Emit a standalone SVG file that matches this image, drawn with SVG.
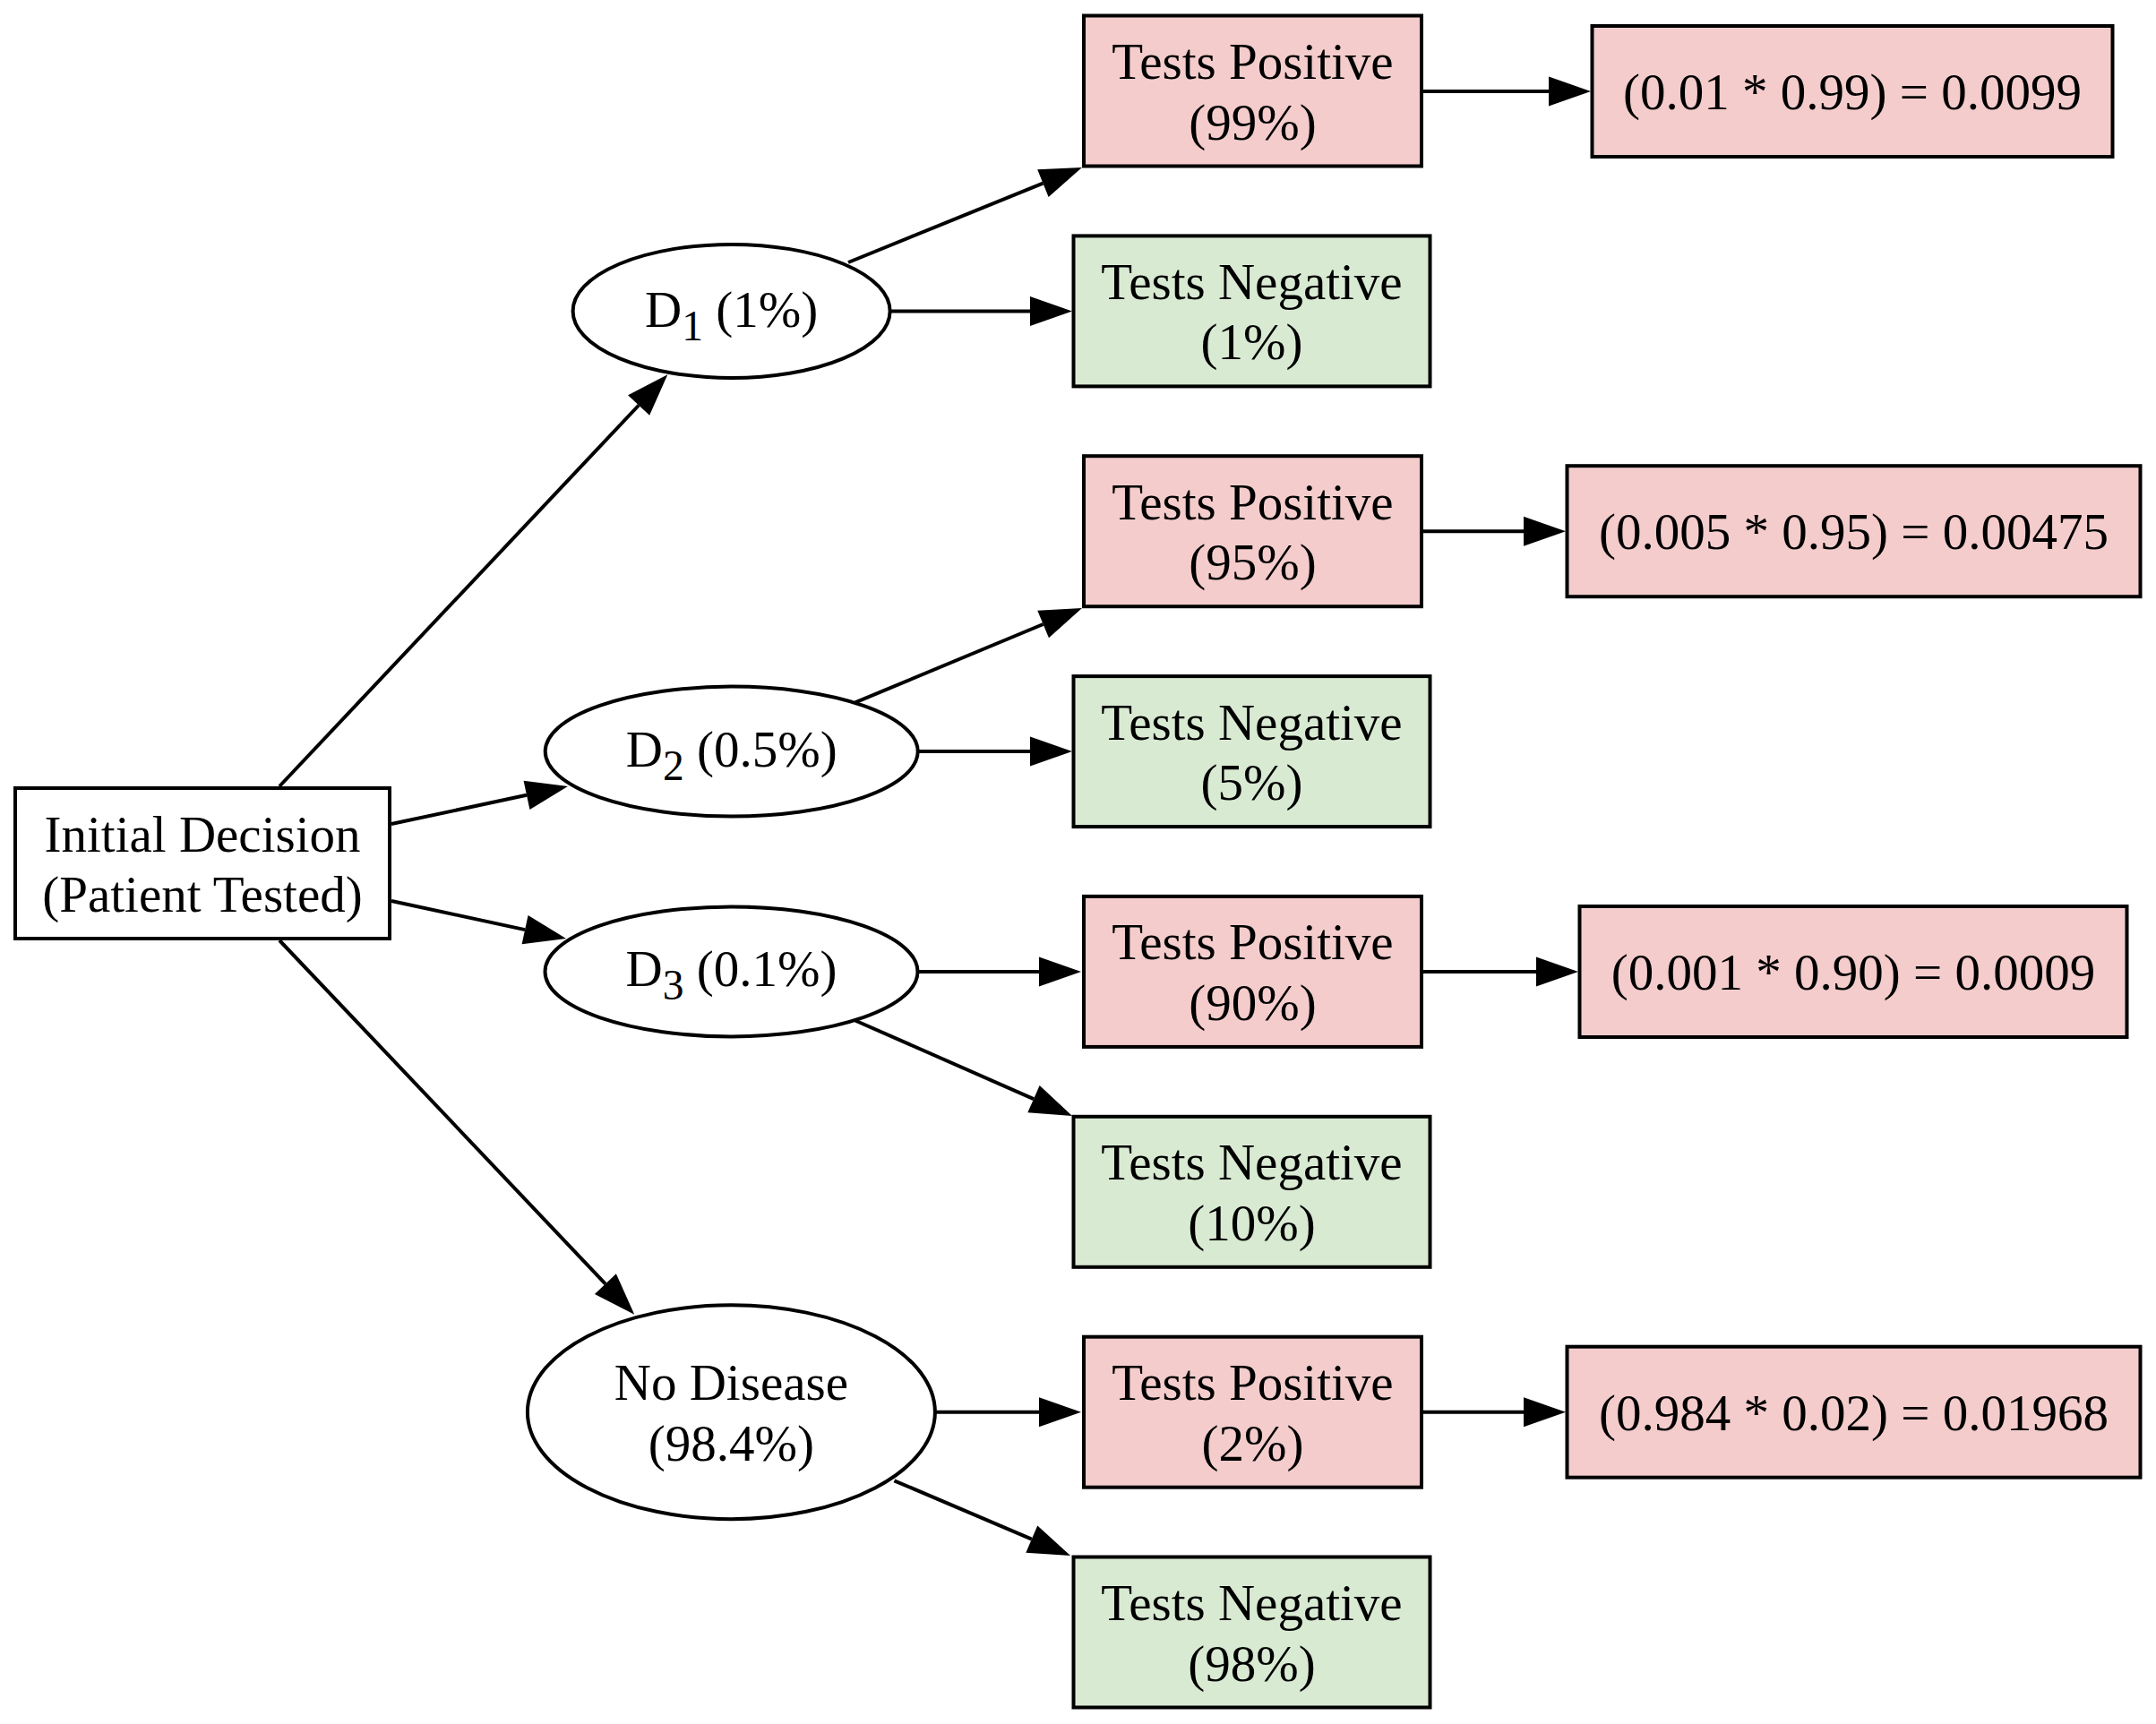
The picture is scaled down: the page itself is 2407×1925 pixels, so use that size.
<svg xmlns="http://www.w3.org/2000/svg" width="2407" height="1925" viewBox="0 0 2407 1925">
<style>
text{font-family:"Liberation Serif","Times New Roman",serif;font-size:57px;fill:#000;text-anchor:middle}
.n{stroke:#000;stroke-width:4;fill:#fff}
.pos{fill:#f4cccc}
.neg{fill:#d9ead3}
.e{stroke:#000;stroke-width:4;fill:none;marker-end:url(#arr)}
.sub{font-size:47.5px}
</style>
<defs>
<marker id="arr" markerUnits="userSpaceOnUse" viewBox="0 -18 50 36" markerWidth="50" markerHeight="36" refX="0" refY="0" orient="auto" overflow="visible">
<path d="M0,-16.5 L47,0 L0,16.5 z" fill="#000"/>
</marker>
</defs>
<rect width="2407" height="1925" fill="#fff"/>
<g id="connectors">
<path class="e" d="M312,878 L713.1,452.5"/>
<path class="e" d="M437,920 L588,887.8"/>
<path class="e" d="M437,1006 L586.1,1038.1"/>
<path class="e" d="M312,1050 L675.9,1433.6"/>
<path class="e" d="M947,293 L1164.4,204.6"/>
<path class="e" d="M994,347.4 L1150,347.4"/>
<path class="e" d="M954.8,784.4 L1164.6,697"/>
<path class="e" d="M1025,839.1 L1150,839.1"/>
<path class="e" d="M1025,1084.9 L1160,1084.9"/>
<path class="e" d="M954.8,1139.5 L1154,1227.1"/>
<path class="e" d="M1044,1576.7 L1160,1576.7"/>
<path class="e" d="M998.4,1653.3 L1151.8,1718.6"/>
<path class="e" d="M1588,102 L1729,102"/>
<path class="e" d="M1588,593.2 L1701,593.2"/>
<path class="e" d="M1588,1085 L1715,1085"/>
<path class="e" d="M1588,1576.7 L1701,1576.7"/>
</g>
<g id="initial">
<rect class="n" x="17" y="880" width="418" height="168"/>
<text x="226" y="950.5">Initial Decision</text>
<text x="226" y="1017.5">(Patient Tested)</text>
</g>
<g id="d1">
<ellipse class="n" cx="816.6" cy="347.4" rx="177" ry="74.5"/>
<text x="816.6" y="364.5">D<tspan class="sub" dy="15">1</tspan><tspan dy="-15"> (1%)</tspan></text>
</g>
<g id="d2">
<ellipse class="n" cx="816.7" cy="839.1" rx="208" ry="72.5"/>
<text x="816.7" y="855.6">D<tspan class="sub" dy="15">2</tspan><tspan dy="-15"> (0.5%)</tspan></text>
</g>
<g id="d3">
<ellipse class="n" cx="816.5" cy="1084.9" rx="208" ry="72.5"/>
<text x="816.5" y="1101.4">D<tspan class="sub" dy="15">3</tspan><tspan dy="-15"> (0.1%)</tspan></text>
</g>
<g id="nodisease">
<ellipse class="n" cx="816.4" cy="1576.7" rx="227.5" ry="119.5"/>
<text x="816.4" y="1563.2">No Disease</text>
<text x="816.4" y="1630.7">(98.4%)</text>
</g>
<g id="tp1">
<rect class="n pos" x="1210" y="17.5" width="377" height="168"/>
<text x="1398.5" y="88">Tests Positive</text>
<text x="1398.5" y="155.5">(99%)</text>
</g>
<g id="tn1">
<rect class="n neg" x="1198.5" y="263.4" width="398" height="168"/>
<text x="1397.5" y="333.9">Tests Negative</text>
<text x="1397.5" y="401.4">(1%)</text>
</g>
<g id="tp2">
<rect class="n pos" x="1210" y="509.2" width="377" height="168"/>
<text x="1398.5" y="579.7">Tests Positive</text>
<text x="1398.5" y="647.2">(95%)</text>
</g>
<g id="tn2">
<rect class="n neg" x="1198.5" y="755.1" width="398" height="168"/>
<text x="1397.5" y="825.6">Tests Negative</text>
<text x="1397.5" y="893.1">(5%)</text>
</g>
<g id="tp3">
<rect class="n pos" x="1210" y="1000.9" width="377" height="168"/>
<text x="1398.5" y="1071.4">Tests Positive</text>
<text x="1398.5" y="1138.9">(90%)</text>
</g>
<g id="tn3">
<rect class="n neg" x="1198.5" y="1246.8" width="398" height="168"/>
<text x="1397.5" y="1317.3">Tests Negative</text>
<text x="1397.5" y="1384.8">(10%)</text>
</g>
<g id="tp4">
<rect class="n pos" x="1210" y="1492.7" width="377" height="168"/>
<text x="1398.5" y="1563.2">Tests Positive</text>
<text x="1398.5" y="1630.7">(2%)</text>
</g>
<g id="tn4">
<rect class="n neg" x="1198.5" y="1738.5" width="398" height="168"/>
<text x="1397.5" y="1809">Tests Negative</text>
<text x="1397.5" y="1876.5">(98%)</text>
</g>
<g id="r1">
<rect class="n pos" x="1777.5" y="29" width="581" height="146"/>
<text x="2068" y="122">(0.01 * 0.99) = 0.0099</text>
</g>
<g id="r2">
<rect class="n pos" x="1749.5" y="520.2" width="640" height="146"/>
<text x="2069.5" y="613.2">(0.005 * 0.95) = 0.00475</text>
</g>
<g id="r3">
<rect class="n pos" x="1763.5" y="1012" width="611" height="146"/>
<text x="2069" y="1105">(0.001 * 0.90) = 0.0009</text>
</g>
<g id="r4">
<rect class="n pos" x="1749.5" y="1503.7" width="640" height="146"/>
<text x="2069.5" y="1596.7">(0.984 * 0.02) = 0.01968</text>
</g>
</svg>
